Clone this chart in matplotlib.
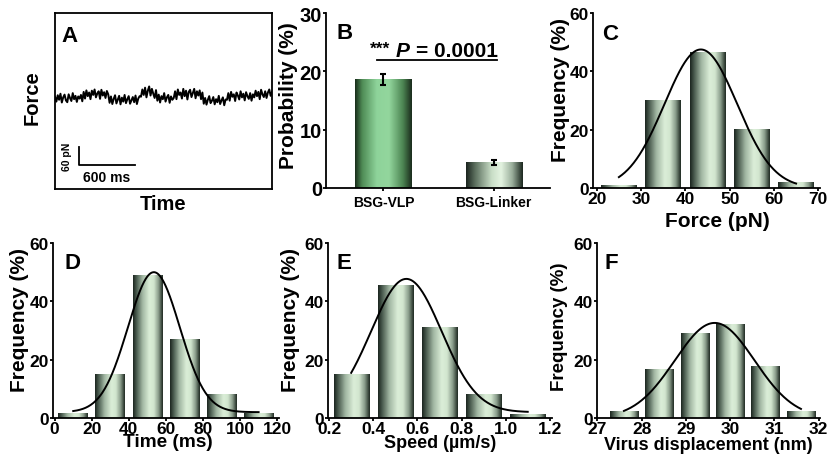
import numpy as np
import matplotlib
matplotlib.use("Agg")
import matplotlib.pyplot as plt
from matplotlib.colors import LinearSegmentedColormap

plt.rcParams['font.family'] = ['Liberation Sans', 'DejaVu Sans']
plt.rcParams['font.weight'] = 'bold'

# ---------------- data ----------------
# Panel A: force trace (pN, relative), 600 ms / 60 pN scale bar
trace_force = [4, -12, 9, -6, 14, -15, 2, 11, -8, -14, 12, 0, -10, 16, -4, 7, -13, 5, -2, 10, -11,
               20, -2, 25, 6, 18, -4, 24, 10, 28, 2, 15, 22, -3, 27, 8, 19, 0, 23, 12,
               -16, 5, -20, -3, 9, -18, -6, 7, -21, 1, -12, 10, -17, -4, 6, -19, -8, 3, -14, 8, -20, -2, 6,
               4, 28, 10, 34, 2, 24, 38, 8, 30, 14, 0, 26,
               -9, 11, -15, 6, -4, 16, -12, 2, 10, -16, 5, -6,
               0, 22, -4, 28, 10, 18, -2, 30, 6, 24, -5, 20, 27, 3, 16, 30, -1, 22, 8, 25, -4, 18,
               -19, 0, -22, -6, 6, -17, -9, 3, -21, -4, -14, 7, -20, -8, 2, -24, -5,
               -6, 16, -9, 20, 4, 12, -10, 18, 8, -5, 22, 2, 14, -8, 19, 6, -3, 16, -9, 12,
               2, 24, 6, 20, -4, 27, 12, 3, 22, 0, 18, 28, 7, 20]
trace_duration_ms = 2325
scalebar_force_pN = 60
scalebar_time_ms = 600

# Panel B
b_categories = ["BSG-VLP", "BSG-Linker"]
b_values = [18.6, 4.35]
b_errors = [0.9, 0.45]
b_stars = "***"
b_p_label = "P"
b_p_value = "= 0.0001"

# Panel C: force histogram
c_bins = [25, 35, 45, 55, 65]
c_freq = [1.0, 30.0, 46.5, 20.0, 2.0]
c_fit = dict(amp=47.5, mu=43.5, sigma=8.2, base=0.0)

# Panel D: time histogram
d_bins = [10, 30, 50, 70, 90, 110]
d_freq = [1.5, 14.8, 49.0, 27.0, 8.0, 1.5]
d_fit = dict(amp=48.0, mu=53.5, sigma=14.0, base=2.0)

# Panel E: speed histogram
e_bins = [0.3, 0.5, 0.7, 0.9, 1.1]
e_freq = [15.0, 45.5, 31.0, 8.0, 1.3]
e_fit = dict(amp=45.7, mu=0.55, sigma=0.16, base=2.0)

# Panel F: displacement histogram
f_bins = [27.6, 28.4, 29.2, 30.0, 30.8, 31.6]
f_freq = [2.2, 16.7, 29.0, 32.2, 17.8, 2.2]
f_fit = dict(amp=32.6, mu=29.65, sigma=0.9, base=0.0)

# ---------------- layout ----------------
W, H = 831, 464
fig = plt.figure(figsize=(W / 100, H / 100), dpi=100)


def rect(l, t, r, b):
    return [l / W, 1 - b / H, (r - l) / W, (b - t) / H]


def ftext(x, y, s, **kw):
    return fig.text(x / W, 1 - y / H, s, **kw)


hist_cmap = LinearSegmentedColormap.from_list(
    "hist", [(0.0, "#1c2620"), (0.12, "#4d5f52"), (0.32, "#a3b8a4"),
             (0.55, "#dbeed8"), (0.70, "#d2e6cf"), (0.86, "#8a9d8b"), (1.0, "#202b23")])
green_cmap = LinearSegmentedColormap.from_list(
    "green", [(0.0, "#1a301c"), (0.12, "#4f8c56"), (0.38, "#8ed39a"),
              (0.60, "#93d69d"), (0.85, "#4c8552"), (1.0, "#1c2e1e")])
linker_cmap = LinearSegmentedColormap.from_list(
    "linker", [(0.0, "#1c2620"), (0.15, "#5b6e5d"), (0.45, "#c9dec7"),
               (0.62, "#e3f3e0"), (0.82, "#9aae9b"), (1.0, "#1e2a21")])
grad = np.linspace(0, 1, 64).reshape(1, -1)


def gradient_bars(ax, xs, hs, width, cmaps):
    for x, h, cm in zip(xs, hs, cmaps):
        ax.imshow(grad, extent=[x - width / 2, x + width / 2, 0, h], aspect='auto',
                  cmap=cm, interpolation='bicubic', zorder=2)


def style_axes(ax, lw=1.3, labelsize=12.5):
    for s in ['top', 'right']:
        ax.spines[s].set_visible(False)
    for s in ['left', 'bottom']:
        ax.spines[s].set_linewidth(lw)
    ax.tick_params(axis='both', direction='out', length=2.3, width=lw, pad=0.5,
                   labelsize=labelsize)
    ax.tick_params(axis='x', pad=-0.5)
    for lab in ax.get_xticklabels() + ax.get_yticklabels():
        lab.set_fontweight('bold')


def hist_panel(box, bins, freq, fit, xlim, xticks, xticklabels):
    ax = fig.add_axes(rect(*box))
    bins = np.asarray(bins, float)
    width = 0.8 * (bins[1] - bins[0])
    gradient_bars(ax, bins, freq, width, [hist_cmap] * len(bins))
    xx = np.linspace(bins[0], bins[-1], 300)
    yy = fit['base'] + fit['amp'] * np.exp(-(xx - fit['mu']) ** 2 / (2 * fit['sigma'] ** 2))
    ax.plot(xx, yy, color='black', lw=1.4, zorder=3)
    ax.set_xlim(*xlim)
    ax.set_ylim(0, 60)
    ax.set_yticks([0, 20, 40, 60])
    ax.set_xticks(xticks)
    ax.set_xticklabels(xticklabels)
    style_axes(ax)
    return ax


# ---------------- Panel A ----------------
axA = fig.add_axes(rect(55, 14, 272, 190))
t = np.linspace(0, trace_duration_ms, len(trace_force))
axA.plot(t, trace_force, color='black', lw=1.4)
axA.set_xlim(0, trace_duration_ms)
axA.set_ylim(-300, 280)
axA.set_xticks([])
axA.set_yticks([])
for s in axA.spines.values():
    s.set_linewidth(1.3)
sb_x0, sb_y0 = 257, -222
axA.plot([sb_x0, sb_x0, sb_x0 + scalebar_time_ms],
         [sb_y0 + scalebar_force_pN, sb_y0, sb_y0], color='black', lw=1.3)
ftext(67, 157, f"{scalebar_force_pN} pN", rotation=90, ha='center', va='center',
      fontsize=7.5, fontweight='bold')
ftext(107, 178, f"{scalebar_time_ms} ms", ha='center', va='center',
      fontsize=10, fontweight='bold')
ftext(32, 98, "Force", rotation=90, ha='center', va='center', fontsize=14.5, fontweight='bold')
ftext(163, 205, "Time", ha='center', va='center', fontsize=14.5, fontweight='bold')

# ---------------- Panel B ----------------
axB = fig.add_axes(rect(326, 14, 550, 189))
bx = np.arange(len(b_categories))
gradient_bars(axB, bx, b_values, 0.51, [green_cmap, linker_cmap])
axB.errorbar(bx, b_values, yerr=b_errors, fmt='none', ecolor='black',
             elinewidth=1.5, capsize=2.5, capthick=1.5, zorder=4)
axB.set_xlim(-0.52, 1.51)
axB.set_ylim(0, 30)
axB.set_yticks([0, 10, 20, 30])
axB.set_xticks(bx)
axB.set_xticklabels(b_categories)
style_axes(axB)
axB.tick_params(axis='y', labelsize=14.5)
axB.tick_params(axis='x', labelsize=10, pad=3)
axB.plot([-0.06, 1.03], [21.9, 21.9], color='black', lw=1.3, clip_on=False)
ftext(380, 49, b_stars, ha='center', va='center', fontsize=12.5, fontweight='bold')
ftext(396, 52, b_p_label, ha='left', va='center', fontsize=15, fontweight='bold',
      fontstyle='italic')
ftext(416, 52, b_p_value, ha='left', va='center', fontsize=15, fontweight='bold')
ftext(289, 96, "Probability (%)", rotation=90, ha='center', va='center',
      fontsize=15, fontweight='bold')

# ---------------- Histograms ----------------
hist_panel((593, 14, 820, 189), c_bins, c_freq, c_fit, (19.16, 70.4),
           [20, 30, 40, 50, 60, 70], ["20", "30", "40", "50", "60", "70"])
hist_panel((53, 244, 279, 419), d_bins, d_freq, d_fit, (-0.9, 121),
           [0, 20, 40, 60, 80, 100, 120], ["0", "20", "40", "60", "80", "100", "120"])
hist_panel((328, 244, 552, 419), e_bins, e_freq, e_fit, (0.195, 1.21),
           [0.2, 0.4, 0.6, 0.8, 1.0, 1.2], ["0.2", "0.4", "0.6", "0.8", "1.0", "1.2"])
hist_panel((596.5, 244, 820, 419), f_bins, f_freq, f_fit, (26.98, 32.03),
           [27, 28, 29, 30, 31, 32], ["27", "28", "29", "30", "31", "32"])

lab_kw = dict(ha='center', va='center', fontweight='bold')
ftext(560, 90, "Frequency (%)", rotation=90, fontsize=15, **lab_kw)
ftext(20, 320, "Frequency (%)", rotation=90, fontsize=15, **lab_kw)
ftext(290, 320, "Frequency (%)", rotation=90, fontsize=15, **lab_kw)
ftext(560, 327, "Frequency (%)", rotation=90, fontsize=13.5, **lab_kw)
ftext(717, 222, "Force (pN)", fontsize=15, **lab_kw)
ftext(168, 443, "Time (ms)", fontsize=13.7, **lab_kw)
ftext(440, 444, "Speed (\u00b5m/s)", fontsize=13, **lab_kw)
ftext(708, 446, "Virus displacement (nm)", fontsize=13, **lab_kw)

# panel letters
let_kw = dict(ha='left', va='top', fontsize=16, fontweight='bold')
for s, x, y in [("A", 61, 26), ("B", 336, 23), ("C", 602, 24),
                ("D", 64, 253), ("E", 336, 253), ("F", 604, 253)]:
    ftext(x, y, s, **let_kw)

fig.savefig("out.png", dpi=100)
